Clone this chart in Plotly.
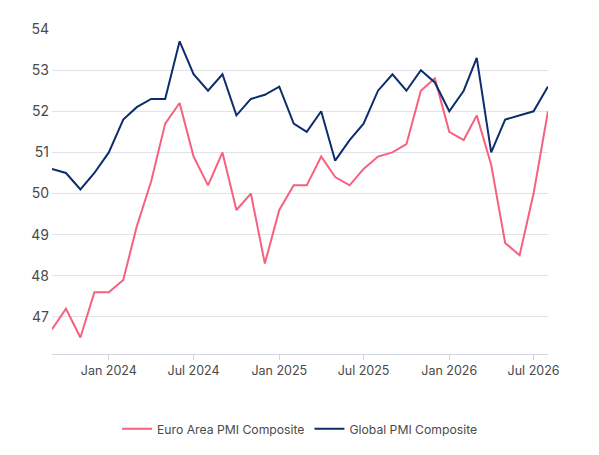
import pandas as pd
import plotly.graph_objects as go

# monthly PMI composite readings, Sep 2023 - Aug 2026
months = pd.date_range("2023-09-01", "2026-08-01", freq="MS")

euro_pmi = [46.7, 47.2, 46.5, 47.6, 47.6, 47.9, 49.2, 50.3, 51.7, 52.2, 50.9, 50.2,
            51.0, 49.6, 50.0, 48.3, 49.6, 50.2, 50.2, 50.9, 50.4, 50.2, 50.6, 50.9,
            51.0, 51.2, 52.5, 52.8, 51.5, 51.3, 51.9, 50.7, 48.8, 48.5, 50.0, 52.0]

global_pmi = [50.6, 50.5, 50.1, 50.5, 51.0, 51.8, 52.1, 52.3, 52.3, 53.7, 52.9, 52.5,
              52.9, 51.9, 52.3, 52.4, 52.6, 51.7, 51.5, 52.0, 50.8, 51.3, 51.7, 52.5,
              52.9, 52.5, 53.0, 52.7, 52.0, 52.5, 53.3, 51.0, 51.8, 51.9, 52.0, 52.6]

tick_dates = ["2024-01-01", "2024-07-01", "2025-01-01", "2025-07-01", "2026-01-01", "2026-07-01"]
tick_labels = ["Jan 2024", "Jul 2024", "Jan 2025", "Jul 2025", "Jan 2026", "Jul 2026"]
y_ticks = [47, 48, 49, 50, 51, 52, 53, 54]

fig = go.Figure()
fig.add_trace(go.Scatter(x=months, y=euro_pmi, mode="lines",
                         name="Euro Area PMI Composite",
                         line=dict(color="#f7607e", width=2)))
fig.add_trace(go.Scatter(x=months, y=global_pmi, mode="lines",
                         name="Global PMI Composite",
                         line=dict(color="#0d2d6c", width=2)))

# page body adds 8px offset, margins compensate for it
fig.update_layout(
    width=599, height=455,
    margin=dict(l=44, r=59, t=21, b=109),
    paper_bgcolor="white", plot_bgcolor="white",
    font=dict(family="Inter", size=12.3, color="#4a4a4a"),
    showlegend=True,
    legend=dict(orientation="h", x=0.5, xanchor="center", y=-0.23, yanchor="middle",
                font=dict(size=12.2, color="#4a4a4a")),
)
fig.update_xaxes(
    range=[months[0], months[-1]],
    tickvals=pd.to_datetime(tick_dates), ticktext=tick_labels,
    tickfont=dict(size=12.5),
    showgrid=False, showline=True, linecolor="#d3d6e0", linewidth=1,
    ticks="outside", ticklen=5, tickcolor="#d3d6e0",
)
fig.update_yaxes(
    range=[46.1, 54.0], tickvals=y_ticks, tickfont=dict(size=14),
    showgrid=True, gridcolor="#e1e2ea", gridwidth=1,
    zeroline=False, showline=False, ticks="", ticklabelstandoff=2,
)

fig.write_html("out.html")
